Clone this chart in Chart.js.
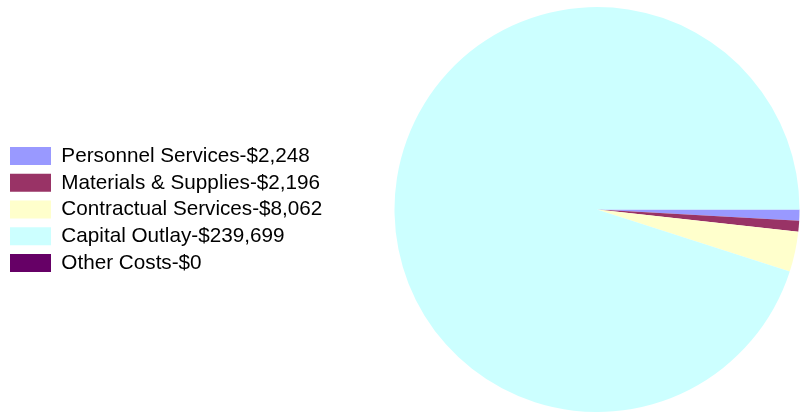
<!DOCTYPE html>
<html>
<head>
<meta charset="utf-8">
<script src="https://cdn.jsdelivr.net/npm/chart.js@4/dist/chart.umd.min.js"></script>
<style>
  html, body { margin: 0; padding: 0; background: #fff; }
  #wrap { width: 801px; height: 412px; }
</style>
</head>
<body>
<div id="wrap"><canvas id="chart1"></canvas></div>
<script>
const categories = ['Personnel Services', 'Materials & Supplies', 'Contractual Services', 'Capital Outlay', 'Other Costs'];
const amounts = [2248, 2196, 8062, 239699, 0];
const sliceColors = ['#9999FF', '#993366', '#FFFFCC', '#CCFFFF', '#660066'];

const labels = categories.map((c, i) => c + '-$' + amounts[i].toLocaleString('en-US'));

// fixed legend width so the pie lands on the right
const legendWidth = {
    id: 'legendWidth',
    beforeInit(chart) {
        const fit = chart.legend.fit;
        chart.legend.fit = function() {
            fit.bind(chart.legend)();
            this.width = 389;
        };
    }
};

const ctx1 = document.getElementById('chart1').getContext('2d');
new Chart(ctx1, {
    type: 'pie',
    data: {
        labels: labels,
        datasets: [{
            data: amounts,
            backgroundColor: sliceColors,
            borderWidth: 0,
            hoverOffset: 0
        }]
    },
    options: {
        responsive: true,
        maintainAspectRatio: false,
        animation: false,
        rotation: 90,
        layout: {
            padding: { top: 7, bottom: 0, left: 4, right: 0 }
        },
        plugins: {
            legend: {
                position: 'left',
                labels: {
                    boxWidth: 41,
                    boxHeight: 18,
                    padding: 6,
                    color: '#000',
                    font: { family: 'Arial, "Liberation Sans", sans-serif', size: 20.7 }
                }
            },
            tooltip: { enabled: false }
        }
    },
    plugins: [legendWidth]
});
</script>
</body>
</html>
